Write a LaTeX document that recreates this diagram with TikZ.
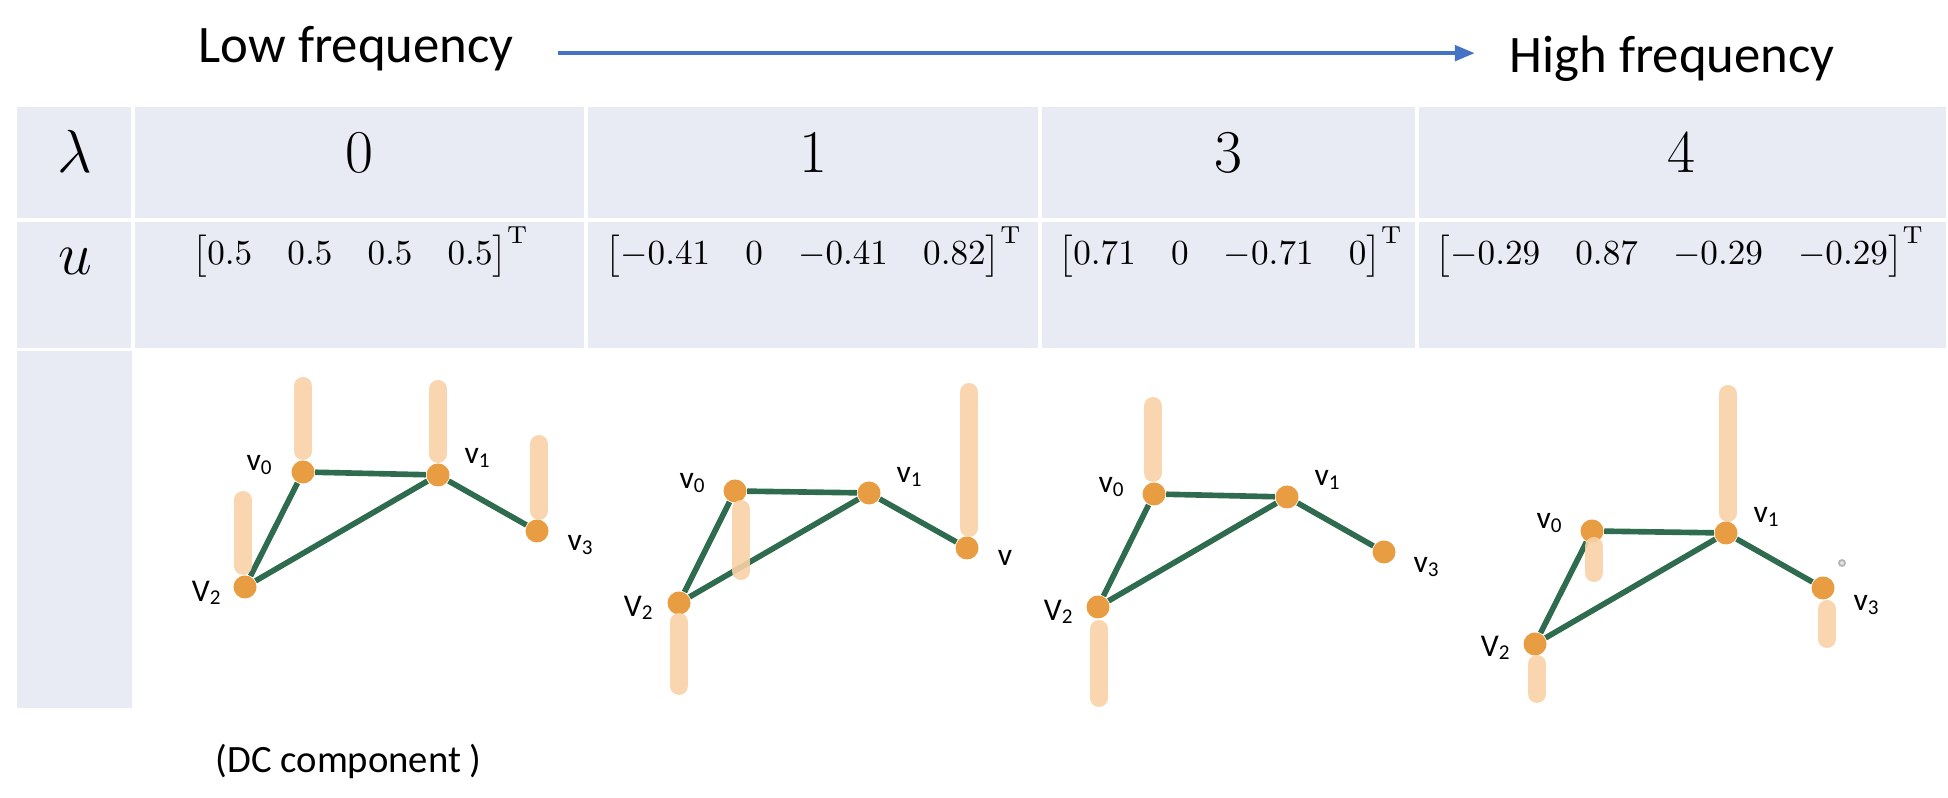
\documentclass[tikz,border=0pt]{standalone}
\usepackage{amsmath}
\usepackage{fontspec}
\newfontfamily\calibri{Carlito}
\usepackage{xcolor}
\definecolor{cellbg}{HTML}{E9EBF4}
\definecolor{peach}{HTML}{F8D2A6}
\definecolor{dotorange}{HTML}{E99D42}
\definecolor{edgegreen}{HTML}{2F6B4F}
\definecolor{arrowblue}{HTML}{4472C4}
\usetikzlibrary{arrows.meta}

\begin{document}
\begin{tikzpicture}[
  x=0.01cm, y=-0.01cm,
  header/.style={font=\calibri\fontsize{15}{18}\selectfont, inner sep=0pt, anchor=base west},
  bigval/.style={font=\fontsize{16}{19}\selectfont, inner sep=0pt, anchor=base},
  vecval/.style={font=\fontsize{10}{12}\selectfont, inner sep=0pt, anchor=base west},
  vtx/.style={circle, fill=dotorange, inner sep=0pt, minimum size=0.23cm},
  vlabel/.style={font=\calibri\fontsize{9}{10}\selectfont, inner sep=0pt},
  gedge/.style={edgegreen, line width=1.6pt},
  bar/.style={peach, line width=0.18cm, line cap=round, opacity=0.9},
  freqarrow/.style={-{Triangle[length=0.2cm, width=0.15cm]}, arrowblue, line width=1.3pt},
]
\useasboundingbox (0,0) rectangle (1948,798);

% Header
\node[header] (lowfreq) at (198,63) {Low frequency};
\node[header] (highfreq) at (1509,73) {High frequency};
\draw[freqarrow] ([xshift=0.44cm, yshift=-0.04cm]lowfreq.east) -- ([xshift=-0.34cm, yshift=-0.04cm]lowfreq.east -| highfreq.west);

% Table cells
\fill[cellbg] (17,107) rectangle (1946,348);
\fill[cellbg] (17,351) rectangle (132,708);
\foreach \xx in {133,586,1040,1417}
  \draw[white, line width=0.9pt] (\xx,107) -- (\xx,348);
\draw[white, line width=0.9pt] (17,220) -- (1946,220);

% Row labels
\node[bigval] (lam) at (75,173) {$\lambda$};
\node[bigval] (uvar) at (75,275) {$u$};

% Eigenvalues
\node[bigval] (ev0) at (359,173) {$0$};
\node[bigval] (ev1) at (813,173) {$1$};
\node[bigval] (ev3) at (1228,173) {$3$};
\node[bigval] (ev4) at (1681,173) {$4$};

% Eigenvectors
\node[vecval] (vec0) at (192,265) {$\begin{bmatrix}0.5 & 0.5 & 0.5 & 0.5\end{bmatrix}^{\mathrm{T}}$};
\node[vecval] (vec1) at (605,265) {$\begin{bmatrix}-0.41 & 0 & -0.41 & 0.82\end{bmatrix}^{\mathrm{T}}$};
\node[vecval] (vec3) at (1058,265) {$\begin{bmatrix}0.71 & 0 & -0.71 & 0\end{bmatrix}^{\mathrm{T}}$};
\node[vecval] (vec4) at (1435,265) {$\begin{bmatrix}-0.29 & 0.87 & -0.29 & -0.29\end{bmatrix}^{\mathrm{T}}$};

% Graph vertices
\node[vtx] (a0) at (303,472) {};
\node[vtx] (a1) at (438,475) {};
\node[vtx] (a2) at (245,587) {};
\node[vtx] (a3) at (537,531) {};

\node[vtx] (b0) at (735,491) {};
\node[vtx] (b1) at (869,493) {};
\node[vtx] (b2) at (679,603) {};
\node[vtx] (b3) at (967,548) {};

\node[vtx] (c0) at (1154,494) {};
\node[vtx] (c1) at (1287,497) {};
\node[vtx] (c2) at (1098,607) {};
\node[vtx] (c3) at (1384,552) {};

\node[vtx] (d0) at (1592,531) {};
\node[vtx] (d1) at (1726,533) {};
\node[vtx] (d2) at (1535,644) {};
\node[vtx] (d3) at (1823,588) {};

% Graph edges
\foreach \g in {a,b,c,d}
  \foreach \p/\q in {0/1,0/2,1/2,1/3}
    \draw[gedge] (\g\p) -- (\g\q);

% Signal bars
\draw[bar] (303,386) -- (303,451);
\draw[bar] (438,389) -- (438,454);
\draw[bar] (539,444) -- (539,511);
\draw[bar] (243,500) -- (243,566);

\draw[bar] (741,509) -- (741,571);
\draw[bar] (679,622) -- (679,686);
\draw[bar] (969,392) -- (969,528);

\draw[bar] (1153,406) -- (1153,473);
\draw[bar] (1099,629) -- (1099,698);

\draw[bar] (1728,394) -- (1728,513);
\draw[bar] (1594,546) -- (1594,573);
\draw[bar] (1537,664) -- (1537,694);
\draw[bar] (1827,609) -- (1827,639);

% Vertex labels
\node[vlabel] (la0) at (260,465) {v\textsubscript{0}};
\node[vlabel] (la1) at (478,458) {v\textsubscript{1}};
\node[vlabel] (la2) at (207,593) {V\textsubscript{2}};
\node[vlabel] (la3) at (581,545) {v\textsubscript{3}};

\node[vlabel] (lb0) at (693,483) {v\textsubscript{0}};
\node[vlabel] (lb1) at (910,477) {v\textsubscript{1}};
\node[vlabel] (lb2) at (639,608) {V\textsubscript{2}};
\node[vlabel] (lb3) at (1005,558) {v};

\node[vlabel] (lc0) at (1112,487) {v\textsubscript{0}};
\node[vlabel] (lc1) at (1328,480) {v\textsubscript{1}};
\node[vlabel] (lc2) at (1059,612) {V\textsubscript{2}};
\node[vlabel] (lc3) at (1427,567) {v\textsubscript{3}};

\node[vlabel] (ld0) at (1550,523) {v\textsubscript{0}};
\node[vlabel] (ld1) at (1767,517) {v\textsubscript{1}};
\node[vlabel] (ld2) at (1496,648) {V\textsubscript{2}};
\node[vlabel] (ld3) at (1867,605) {v\textsubscript{3}};

\node[circle, draw=gray!60, fill=gray!20, line width=0.5pt, inner sep=0pt, minimum size=0.06cm] (speck) at (1842,563) {};

% Caption
\node[header, font=\calibri\fontsize{11}{13}\selectfont] (dc) at (215,773) {(DC component )};

\end{tikzpicture}
\end{document}
